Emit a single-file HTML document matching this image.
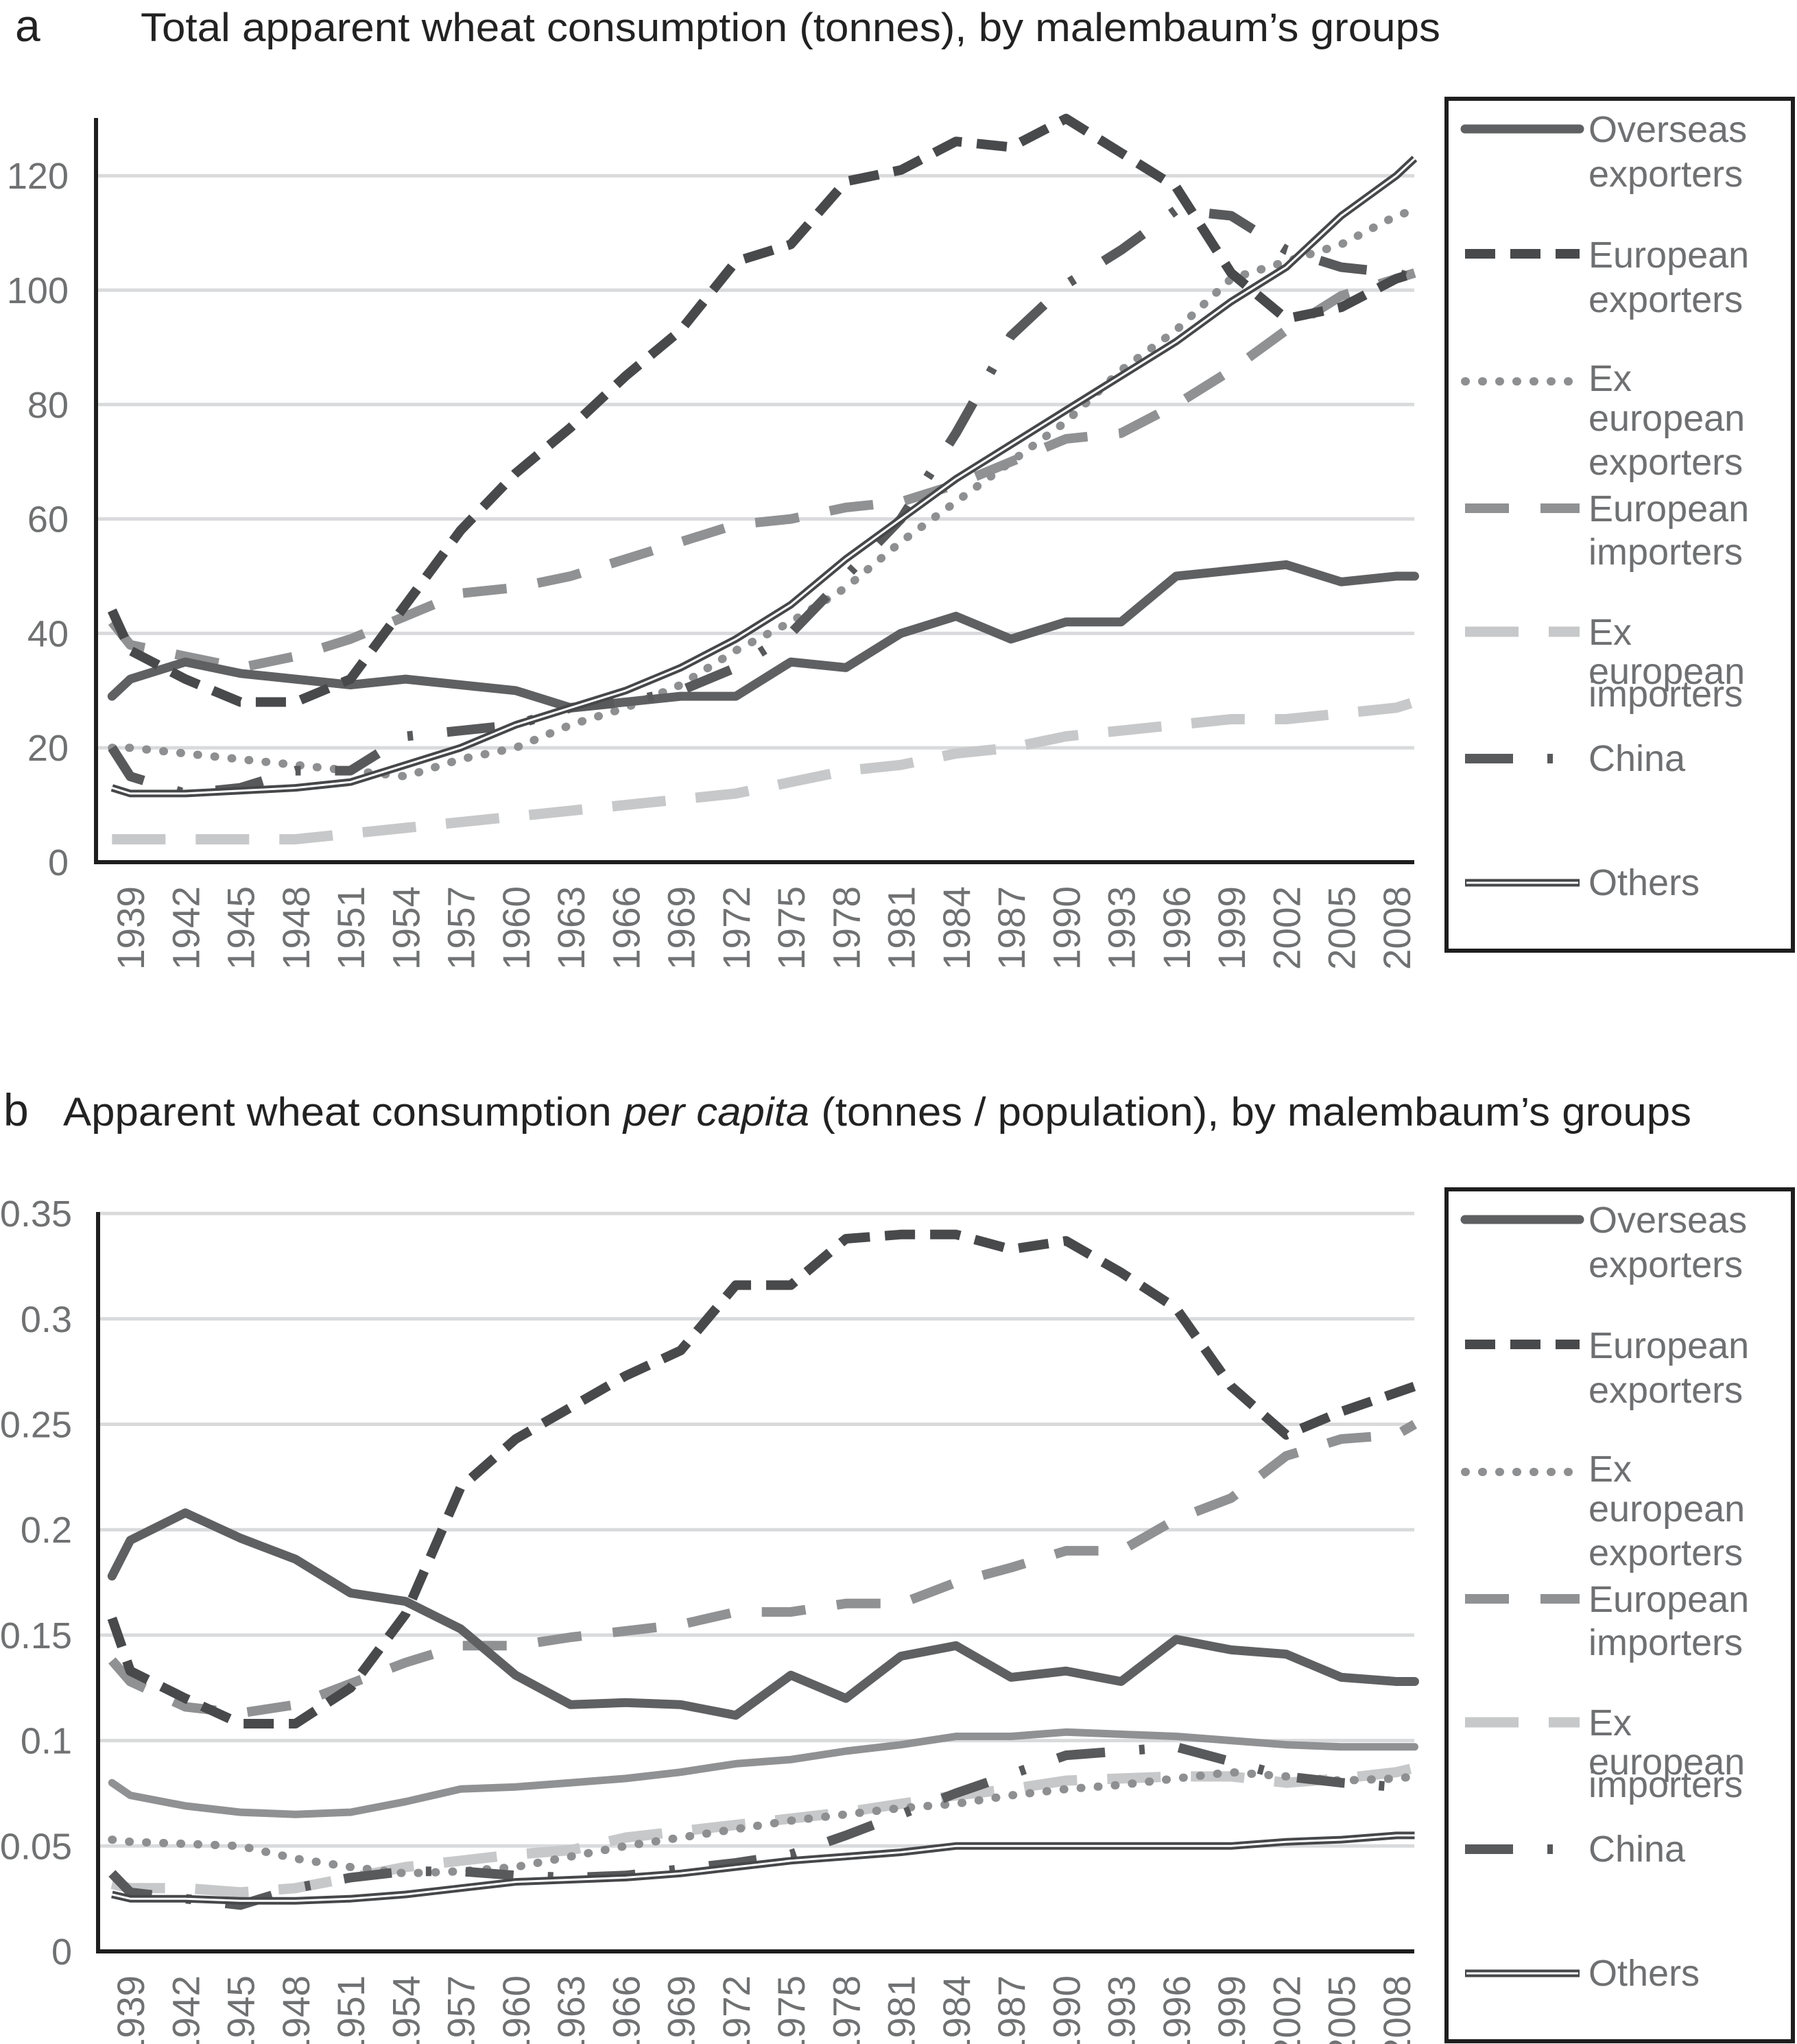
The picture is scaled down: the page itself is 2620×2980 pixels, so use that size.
<!DOCTYPE html>
<html><head><meta charset="utf-8">
<style>
html,body{margin:0;padding:0;background:#fff;}
svg{display:block;font-family:"Liberation Sans",sans-serif;}
</style></head>
<body>
<svg id="root" width="2620" height="2980" viewBox="0 0 2620 2980" xmlns="http://www.w3.org/2000/svg">
<text x="22" y="60" font-size="66" fill="#222">a</text>
<text x="205" y="60" font-size="58" fill="#222" textLength="1895" lengthAdjust="spacingAndGlyphs">Total apparent wheat consumption (tonnes), by malembaum’s groups</text>
<text x="5" y="1641" font-size="66" fill="#222">b</text>
<text x="92" y="1641" font-size="58" fill="#222" textLength="2374" lengthAdjust="spacingAndGlyphs">Apparent wheat consumption <tspan font-style="italic">per capita</tspan> (tonnes / population), by malembaum’s groups</text>
<g id="chartA"></g>
<g id="chartB"></g>
</svg>
<script>
const years = [1938,1939,1942,1945,1948,1951,1954,1957,1960,1963,1966,1969,1972,1975,1978,1981,1984,1987,1990,1993,1996,1999,2002,2005,2008,2009];
const tickYears = [1939,1942,1945,1948,1951,1954,1957,1960,1963,1966,1969,1972,1975,1978,1981,1984,1987,1990,1993,1996,1999,2002,2005,2008];
const ticksA = [0,20,40,60,80,100,120];
const tickLabelsA = ["0","20","40","60","80","100","120"];
const ticksB = [0,0.05,0.1,0.15,0.2,0.25,0.3,0.35];
const tickLabelsB = ["0","0.05","0.1","0.15","0.2","0.25","0.3","0.35"];

// Panel a (tonnes)
const aOverseas = [29,32,35,33,32,31,32,31,30,27,28,29,29,35,34,40,43,39,42,42,50,51,52,49,50,50];
const aEuroExp = [44,37,32,28,28,32,45,58,68,76,85,93,105,108,119,121,126,125,130,124,118,103,95,97,102,103];
const aExEuroExp = [20,20,19,18,17,16,15,18,20,24,27,31,37,42,48,56,63,70,77,86,93,102,105,108,113,114];
const aEuroImp = [42,38,36,34,36,39,43,47,48,50,53,56,59,60,62,63,66,70,74,75,80,86,93,99,102,103];
const aExEuroImp = [4,4,4,4,4,5,6,7,8,9,10,11,12,14,16,17,19,20,22,23,24,25,25,26,27,28];
const aChina = [20,15,12,13,16,16,22,23,24,27,28,30,34,40,50,60,75,92,101,107,114,113,107,104,103,102];
const aOthers = [13,12,12,12.5,13,14,17,20,24,27,30,34,39,45,53,60,67,73,79,85,91,98,104,113,120,123];

// Panel b (per capita)
const bOverseas = [0.178,0.195,0.208,0.196,0.186,0.17,0.166,0.153,0.131,0.117,0.118,0.117,0.112,0.131,0.12,0.14,0.145,0.13,0.133,0.128,0.148,0.143,0.141,0.13,0.128,0.128];
const bEuroExp = [0.158,0.133,0.12,0.108,0.108,0.125,0.16,0.22,0.243,0.258,0.273,0.285,0.316,0.316,0.338,0.34,0.34,0.333,0.337,0.322,0.305,0.268,0.245,0.256,0.265,0.268];
const bExEuroExp = [0.053,0.052,0.051,0.05,0.044,0.04,0.037,0.038,0.04,0.045,0.05,0.054,0.058,0.062,0.065,0.068,0.07,0.074,0.077,0.079,0.082,0.085,0.083,0.081,0.082,0.083];
const bEuroImp = [0.138,0.128,0.116,0.113,0.117,0.127,0.137,0.145,0.145,0.149,0.152,0.155,0.161,0.161,0.165,0.165,0.175,0.182,0.19,0.19,0.205,0.215,0.235,0.243,0.245,0.25];
const bExEuroImp = [0.032,0.03,0.03,0.028,0.03,0.035,0.04,0.043,0.046,0.048,0.054,0.057,0.06,0.063,0.066,0.07,0.074,0.077,0.081,0.082,0.083,0.083,0.08,0.082,0.085,0.087];
const bChina = [0.037,0.028,0.025,0.022,0.03,0.035,0.038,0.038,0.036,0.035,0.036,0.039,0.042,0.046,0.055,0.065,0.075,0.084,0.093,0.095,0.097,0.09,0.083,0.08,0.078,0.08];
const bGrey = [0.08,0.074,0.069,0.066,0.065,0.066,0.071,0.077,0.078,0.08,0.082,0.085,0.089,0.091,0.095,0.098,0.102,0.102,0.104,0.103,0.102,0.1,0.098,0.097,0.097,0.097];
const bOthers = [0.027,0.025,0.025,0.024,0.024,0.025,0.027,0.03,0.033,0.034,0.035,0.037,0.04,0.043,0.045,0.047,0.05,0.05,0.05,0.05,0.05,0.05,0.052,0.053,0.055,0.055];

const NS = "http://www.w3.org/2000/svg";
function mk(parent, tag, attrs){
  const e = document.createElementNS(NS, tag);
  for (const k in attrs) e.setAttribute(k, attrs[k]);
  parent.appendChild(e);
  return e;
}
const styles = {
  overseas:{stroke:"#5f6062",w:13,dash:null,cap:"round"},
  euroExp:{stroke:"#48494b",w:14,dash:"44 22",cap:"butt"},
  exEuroExp:{stroke:"#8e8f91",w:12,dash:"1 24",cap:"round"},
  euroImp:{stroke:"#909193",w:14,dash:"64 46",cap:"butt"},
  exEuroImp:{stroke:"#c7c8c9",w:15,dash:"78 44",cap:"butt"},
  china:{stroke:"#58595b",w:14,dash:"70 50 8 50",cap:"butt"},
  grey:{stroke:"#909193",w:11,dash:null,cap:"round"},
};

function drawChart(g, cfg){
  const xOf = y => 190 + (y - 1939) * 26.75;
  const yOf = v => cfg.y0 - (v / cfg.step) * cfg.stepPx;
  cfg.ticks.forEach((t, i) => {
    const yy = yOf(t);
    if (t > 0) {
      const gl = mk(g, "line", {x1:cfg.axisX, x2:2062, y1:yy, y2:yy, stroke:"#d9dadb", "stroke-width":5});
      
      
    }
    const tl = mk(g, "text", {x:cfg.labelRight, y:yy+19, "font-size":54, fill:"#707172", "text-anchor":"end"});
    tl.textContent = cfg.tickLabels[i];
    
    
  });
  tickYears.forEach(y => {
    const x = xOf(y);
    const t = mk(g, "text", {x:0, y:0, "font-size":56, fill:"#707172", "text-anchor":"end", transform:`translate(${x+20},${cfg.y0+35}) rotate(-90)`, textLength:122, lengthAdjust:"spacingAndGlyphs"});
    t.textContent = String(y);
    
    
  });
  cfg.series.forEach(s => {
    const d = years.map((y, i) => (i ? "L" : "M") + xOf(y).toFixed(1) + " " + yOf(s.data[i]).toFixed(1)).join(" ");
    if (s.key === "others") {
      const p1 = mk(g, "path", {d, fill:"none", stroke:"#464749", "stroke-width":11, "stroke-linejoin":"round"});
      
      
      const p2 = mk(g, "path", {d, fill:"none", stroke:"#ffffff", "stroke-width":3, "stroke-linejoin":"round"});
      
      
    } else {
      const st = styles[s.key];
      const a = {d, fill:"none", stroke:st.stroke, "stroke-width":st.w, "stroke-linejoin":"round", "stroke-linecap":st.cap};
      if (st.dash) a["stroke-dasharray"] = st.dash;
      const p = mk(g, "path", a);
      
      
    }
  });
  const ax = mk(g, "line", {x1:cfg.axisX, x2:cfg.axisX, y1:cfg.axisTop, y2:cfg.y0, stroke:"#1e1e1e", "stroke-width":6});
  
  
  const bx = mk(g, "line", {x1:cfg.axisX-3, x2:2062, y1:cfg.y0, y2:cfg.y0, stroke:"#1e1e1e", "stroke-width":6});
  
  

  const off = cfg.legendOff;
  const box = mk(g, "rect", {x:2109, y:144+off, width:505, height:1242, fill:"none", stroke:"#1e1e1e", "stroke-width":6});
  
  
  const entries = [
    {key:"overseas", ly:188, lines:[["Overseas",207],["exporters",272]]},
    {key:"euroExp", ly:370, lines:[["European",390],["exporters",455]]},
    {key:"exEuroExp", ly:556, lines:[["Ex",570],["european",628],["exporters",692]]},
    {key:"euroImp", ly:741, lines:[["European",760],["importers",823]]},
    {key:"exEuroImp", ly:921, lines:[["Ex",940],["european",997],["importers",1030]]},
    {key:"china", ly:1106, lines:[["China",1124]]},
    {key:"others", ly:1287, lines:[["Others",1305]]},
  ];
  entries.forEach(e => {
    const y = e.ly + off;
    if (e.key === "others") {
      const l1 = mk(g, "line", {x1:2136, x2:2303, y1:y, y2:y, stroke:"#464749", "stroke-width":11});
      
      
      const l2 = mk(g, "line", {x1:2138, x2:2301, y1:y, y2:y, stroke:"#fff", "stroke-width":3});
      
      
    } else {
      const st = styles[e.key];
      const a = {x1:2136, x2:2303, y1:y, y2:y, stroke:st.stroke, "stroke-width":st.w, "stroke-linecap":st.cap};
      if (st.dash) a["stroke-dasharray"] = st.dash;
      const l = mk(g, "line", a);
      
      
    }
    e.lines.forEach(([txt, by]) => {
      const t = mk(g, "text", {x:2316, y:by+off, "font-size":54, fill:"#6f7072"});
      t.textContent = txt;
      
      
    });
  });
}

drawChart(document.getElementById("chartA"), {
  y0:1257, step:20, stepPx:166.8, axisX:140, axisTop:172, labelRight:100, legendOff:0,
  ticks:ticksA, tickLabels:tickLabelsA,
  series:[
    {key:"exEuroImp", name:"ex-european-importers", data:aExEuroImp},
    {key:"euroImp", name:"european-importers", data:aEuroImp},
    {key:"exEuroExp", name:"ex-european-exporters", data:aExEuroExp},
    {key:"overseas", name:"overseas-exporters", data:aOverseas},
    {key:"china", name:"china", data:aChina},
    {key:"euroExp", name:"european-exporters", data:aEuroExp},
    {key:"others", name:"others", data:aOthers},
  ]
});
drawChart(document.getElementById("chartB"), {
  y0:2845, step:0.05, stepPx:153.7, axisX:143, axisTop:1767, labelRight:105, legendOff:1590,
  ticks:ticksB, tickLabels:tickLabelsB,
  series:[
    {key:"grey", name:"unlabeled-grey", data:bGrey},
    {key:"exEuroImp", name:"ex-european-importers", data:bExEuroImp},
    {key:"euroImp", name:"european-importers", data:bEuroImp},
    {key:"exEuroExp", name:"ex-european-exporters", data:bExEuroExp},
    {key:"china", name:"china", data:bChina},
    {key:"overseas", name:"overseas-exporters", data:bOverseas},
    {key:"euroExp", name:"european-exporters", data:bEuroExp},
    {key:"others", name:"others", data:bOthers},
  ]
});
</script>
</body></html>
